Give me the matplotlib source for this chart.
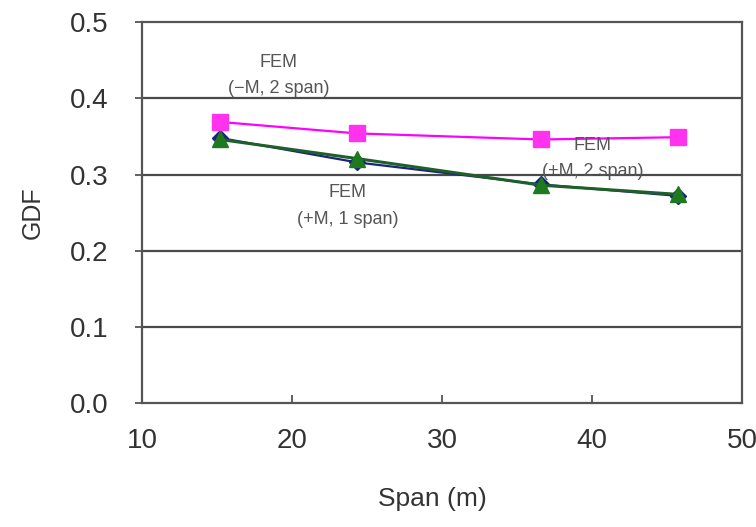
import matplotlib.pyplot as plt

# span length (m) for each bridge model
span = [15.2, 24.3, 36.6, 45.7]

# girder distribution factors from FEM
gdf_neg_2span = [0.369, 0.354, 0.346, 0.349]
gdf_pos_1span = [0.348, 0.316, 0.287, 0.272]
gdf_pos_2span = [0.346, 0.321, 0.286, 0.274]

plt.rcParams['font.family'] = ['Liberation Sans', 'DejaVu Sans']

fig = plt.figure(figsize=(7.56, 5.27), dpi=100)
ax = fig.add_axes([0.188, 0.235, 0.794, 0.723])

for y in [0.1, 0.2, 0.3, 0.4]:
    ax.axhline(y, color='#4a4a4a', lw=1.6, zorder=1)

ax.plot(span, gdf_pos_1span, color='#1a237e', lw=1.6, marker='D', ms=8,
        mfc='#1a237e', mec='#1a237e', zorder=3)
ax.plot(span, gdf_pos_2span, color='#1f5f2a', lw=2.2, marker='^', ms=11,
        mfc='#1e7a1e', mec='#1e7a1e', zorder=4)
ax.plot(span, gdf_neg_2span, color='#ff00ff', lw=1.6, marker='s', ms=11,
        mfc='#ff33ee', mec='#ff33ee', zorder=5)

txt = dict(ha='center', va='center', fontsize=13, color='#555555',
           linespacing=1.75, zorder=6)
ax.text(19.1, 0.430, 'FEM\n(\u2212M, 2 span)', **txt)
ax.text(40.0, 0.321, 'FEM\n(+M, 2 span)', **txt)
ax.text(23.7, 0.259, 'FEM\n(+M, 1 span)', **txt)

ax.set_xlim(10, 50)
ax.set_ylim(0, 0.5)
ax.set_xticks([10, 20, 30, 40, 50])
ax.set_yticks([0.0, 0.1, 0.2, 0.3, 0.4, 0.5])
ax.set_yticklabels(['0.0', '0.1', '0.2', '0.3', '0.4', '0.5'])
ax.tick_params(axis='x', direction='in', length=6, width=1.3, color='#555555',
               labelsize=20, pad=18, labelcolor='#333333')
ax.tick_params(axis='y', direction='out', length=5, width=1.3, color='#555555',
               labelsize=20, pad=19, labelcolor='#333333')
for s in ax.spines.values():
    s.set_color('#555555')
    s.set_linewidth(1.6)

ax.set_xlabel('Span (m)', fontsize=19, color='#333333', labelpad=30)
ax.xaxis.set_label_coords(0.483, -0.22)
ax.set_ylabel('GDF', fontsize=18, color='#333333', labelpad=18)

fig.savefig('out.png', dpi=100, facecolor='white')
